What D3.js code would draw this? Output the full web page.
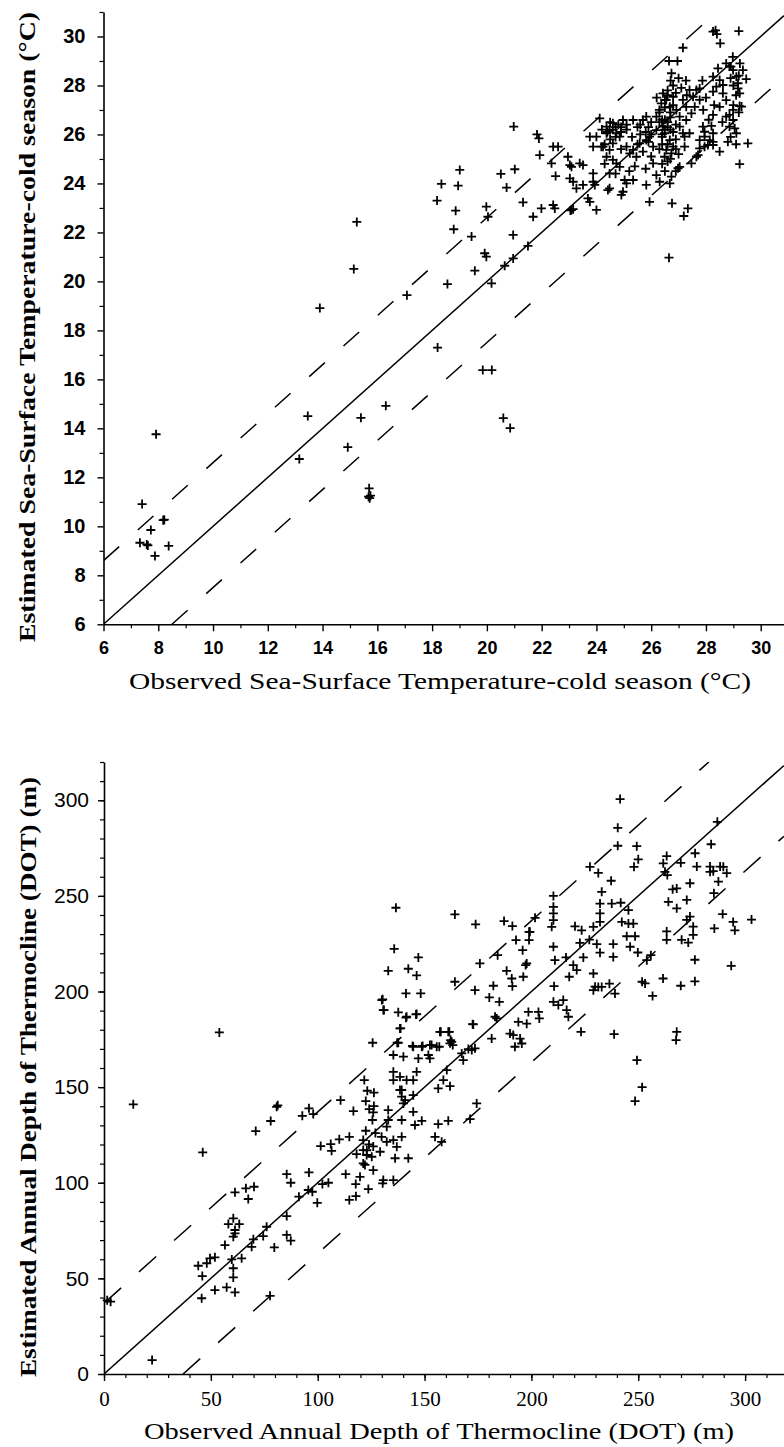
<!DOCTYPE html>
<html><head><meta charset="utf-8">
<script src="https://cdn.jsdelivr.net/npm/d3@7"></script>
<style>html,body{margin:0;padding:0;background:#fff;}svg{display:block;}</style>
</head><body>
<script>
// ---------- DATA ----------
// Top chart: cold-season SST (observed, estimated) in °C
const sstObs = [7.92,7.41,8.22,8.18,7.73,7.33,7.58,7.62,8.38,7.88,13.15,13.46,14.92,15.4,15.7,15.68,15.72,15.75,
15.25,15.14,13.9,17.08,16.31,18.2,19.85,20.18,20.6,20.85,
28.26,28.35,28.4,29.2,28.52,27.16,26.65,26.96,26.74,26.71,27.27,27.87,
28.98,29.24,28.91,29.35,29.47,29.17,29.23,28.38,28.26,28.62,28.74,29.23,29.3,28.5,28.99,28.86,28.26,27.89,28.2,27.95,29.11,29.05,28.8,28.26,27.95,28.26,27.71,29.53,29.23,27.04,26.98,26.74,26.68,25.94,26.76,27.34,27.19,26.65,
26.07,26.19,25.82,26.31,25.34,25.03,25.1,24.91,24.97,24.48,24.48,24.42,24.0,23.69,23.76,23.09,23.15,23.05,22.42,22.48,21.99,21.69,21.32,21.5,20.96,20.96,20.65,20.17,19.56,19.92,19.98,18.56,19.98,20.04,19.44,18.79,18.86,18.18,18.34,18.95,19.01,20.51,21.02,20.72,
20.98,21.83,21.9,22.42,22.6,21.93,22.36,22.51,22.96,23.03,23.09,23.39,23.51,23.03,23.15,23.51,23.27,23.88,23.88,23.94,
23.76,24.0,24.12,23.88,24.18,24.37,24.48,24.6,24.37,24.73,24.24,24.48,24.6,24.85,24.37,24.6,24.73,24.85,24.97,25.34,25.7,25.1,25.34,25.22,25.46,25.58,25.82,26.07,25.94,26.19,26.43,26.19,25.82,
26.43,26.55,26.68,26.8,26.37,26.92,27.04,27.16,27.28,27.4,27.65,27.53,27.77,
26.49,26.68,26.8,26.55,26.74,26.49,27.04,27.16,27.28,27.47,27.59,27.77,27.22,27.22,27.4,
28.74,28.86,28.99,29.11,29.17,28.26,28.5,28.62,28.44,28.86,28.99,28.74,28.26,28.14,27.95,27.77,27.47,27.65,27.77,28.07,
26.3,26.5,26.6,26.4,26.7,26.9,26.2,26.6,26.5,26.3,26.7,26.9,27.0,26.4,26.6,26.9,26.5,25.5,25.6,25.9,26.0,25.3,25.1,24.9,24.5,24.7,24.2,24.9,25.7,26.0,25.4,25.8,24.3,24.7,25.2,27.1,27.3,26.8,27.0,28.0,28.3,27.9,28.6,28.1,28.9,28.5,29.0,29.2,29.1,
26.3,26.4,26.5,26.6,26.7,26.8,26.5,26.3,26.6,26.9,26.4,26.8,26.6,26.9,26.7,26.4,
24.4,24.6,24.8,24.5,24.7,24.9,25.1,24.3,25.6,25.8,26.0,25.9,25.5,29.0,29.1,28.9,29.2];
const sstEst = [13.76,10.91,10.27,10.25,9.85,9.33,9.26,9.22,9.2,8.79,12.75,14.5,13.23,14.43,11.55,11.21,11.15,11.25,
22.43,20.51,18.91,19.44,14.92,17.3,16.38,16.38,14.42,14.01,
30.2,30.25,30.1,30.22,29.72,29.54,29.0,29.0,28.5,28.2,28.2,28.2,
29.17,28.9,28.77,28.63,28.26,27.88,27.68,27.95,27.75,27.68,27.4,27.16,27.14,27.13,27.0,26.8,26.8,26.32,26.35,26.11,26.05,26.25,25.7,25.7,25.5,25.57,25.16,25.64,24.79,24.68,24.62,24.28,24.0,23.25,23.19,22.98,22.67,20.97,
24.82,24.34,23.94,24.07,24.14,24.14,24.0,23.53,23.66,24.41,23.8,23.73,22.92,23.39,23.25,22.92,22.95,22.9,23.12,22.98,22.98,22.64,23.23,21.45,21.9,20.94,20.64,19.92,20.44,21.15,21.01,19.89,23.05,22.64,21.83,22.13,22.89,23.3,23.98,23.91,24.55,24.39,24.58,23.83,
26.32,26.0,25.84,25.5,25.5,25.16,24.82,24.3,25.09,24.75,24.68,24.82,24.75,24.21,24.07,23.94,23.8,24.41,24.07,23.94,
25.91,25.91,26.66,25.5,25.5,26.32,26.18,26.46,26.05,26.05,25.5,25.37,25.64,25.91,25.09,24.96,24.82,24.68,26.59,26.59,26.59,25.5,25.37,25.23,25.09,25.64,25.77,25.5,25.91,26.18,26.32,26.73,26.73,
27.68,27.41,27.13,27.54,27.27,27.0,26.73,27.41,27.13,27.82,27.82,27.54,27.88,
26.05,25.77,25.5,25.37,25.23,25.09,26.32,26.05,26.59,26.86,27.13,27.41,25.91,25.5,26.05,
28.9,28.77,28.63,28.36,28.09,28.36,28.22,28.02,28.7,26.32,26.59,26.73,26.05,25.77,25.91,25.77,24.82,25.09,25.43,25.57,
26.9,26.6,26.3,26.0,26.7,26.4,27.5,27.8,27.1,26.5,26.2,25.8,25.2,25.6,24.9,24.5,24.5,26.3,26.0,26.3,26.0,25.9,26.2,26.3,26.5,26.3,26.2,25.4,25.3,25.1,24.7,24.6,24.8,24.4,24.5,27.9,27.6,28.0,28.3,27.5,27.2,27.0,26.5,26.6,25.9,25.3,27.2,26.9,25.6,
25.4,25.9,26.2,26.5,26.9,27.2,27.4,27.0,27.6,27.7,26.6,26.1,25.6,25.4,25.0,24.8,
26.1,26.2,26.4,25.8,25.9,26.1,26.4,25.6,26.4,26.1,26.5,25.7,25.6,28.0,27.6,28.3,28.4];

// Bottom chart: annual depth of thermocline (observed, estimated) in m
const dotObs = [53.97,13.7,46.2,3.1,1.5,22.5,77.7,45.7,51.9,57.4,61.3,
44.1,46.0,48.1,49.6,51.9,60.5,60.5,59.8,64.4,
56.6,60.5,61.3,58.2,60.5,63.3,61.3,
69.1,69.9,74.5,76.1,79.7,85.5,85.5,87.4,
61.3,66.4,67.5,70.2,71.0,78.0,80.8,81.3,92.8,95.9,97.9,110.7,116.7,
85.5,87.4,91.2,95.6,97.5,99.8,95.9,102.2,105.0,113.1,114.8,117.8,117.9,
101.4,106.1,106.5,110.1,114.8,
121.8,123.2,126.3,122.5,126.3,126.0,125.6,124.1,122.5,121.3,118.2,121.3,122.9,125.3,121.3,126.0,122.1,123.7,119.8,129.2,129.9,
132.3,135.4,137.0,139.3,136.2,142.4,130.7,130.4,135.4,
133.0,133.0,132.3,139.3,144.7,145.5,148.7,
135.4,135.4,135.4,138.5,139.3,138.5,141.6,144.7,139.3,140.1,140.9,144.7,
140.1,144.7,147.1,148.7,152.5,155.7,152.5,146.3,151.8,
137.7,141.6,146.3,138.5,137.7,130.7,130.0,125.7,
157.2,161.1,162.7,161.9,172.8,
156.4,161.9,170.5,167.4,168.1,172.1,173.6,160.4,158.8,
156.4,161.1,171.3,154.9,158.0,174.4,
241.5,240.4,240.4,249.3,250.0,248.0,227.4,231.3,237.3,
210.3,210.3,210.3,210.3,209.5,
232.9,232.1,232.1,232.1,229.0,237.6,241.8,
245.4,242.3,245.4,247.7,220.4,223.5,
201.7,187.2,191.1,173.9,164.2,136.6,135.8,147.1,133.0,142.4,146.3,
130.4,131.0,141.3,146.0,141.3,148.2,
138.8,137.2,144.4,149.1,153.3,156.9,157.6,161.6,162.2,163.2,
164.2,173.6,172.5,175.9,184.2,
188.4,190.8,191.1,196.2,197.3,197.8,195.9,192.8,198.9,198.9,199.3,
182.2,180.3,185.0,183.0,183.8,181.4,190.0,191.5,194.7,195.5,192.3,193.9,197.8,198.6,203.3,203.7,216.5,217.3,
210.3,211.0,210.6,210.3,212.6,214.9,
227.1,222.7,224.3,219.6,217.7,221.2,229.0,231.3,232.9,229.0,236.5,239.1,216.2,
230.6,232.1,238.3,238.3,244.6,248.5,246.2,249.8,254.0,255.9,253.2,256.7,261.6,251.8,
263.3,261.7,269.9,262.5,263.6,266.1,268.0,264.1,268.0,272.7,274.2,277.4,276.6,284.1,283.6,288.3,287.5,291.4,285.4,
272.7,274.2,275.7,275.7,270.3,273.4,263.3,263.3,276.5,276.5,285.6,289.5,294.4,295.2,303.0,293.5,268.0,269.9,
287.0,289.8,285.1,283.6,223.2,229.8,
249.4,251.8,248.5,267.7,238.7,
124.0,127.0,123.0,126.0];
const dotEst = [178.6,141.0,115.9,37.8,38.5,7.3,40.9,39.6,43.9,45.3,42.7,
56.6,51.2,57.9,60.5,61.0,55.3,50.5,59.9,60.5,
67.4,71.8,73.5,78.4,81.4,78.4,75.3,
66.5,70.4,72.1,77.0,66.2,82.6,72.7,69.7,
95.0,97.1,91.5,97.9,127.0,132.3,139.7,140.5,135.0,138.9,135.9,143.2,137.5,
104.5,100.0,92.7,96.2,95.3,89.5,105.4,99.3,100.0,104.5,91.0,99.3,93.0,
119.2,120.2,116.7,122.7,124.0,
153.7,148.1,147.1,142.7,140.1,136.8,132.8,138.5,127.2,122.3,115.0,117.1,114.5,113.6,110.1,106.6,109.3,96.7,103.1,116.2,124.0,
121.4,122.3,118.8,124.0,112.8,112.8,101.4,99.7,101.4,
138.0,132.8,129.3,132.8,137.1,130.2,132.4,
166.8,158.0,153.7,155.4,148.5,148.5,153.7,153.7,145.0,141.5,143.2,145.8,
165.9,171.1,165.0,171.1,172.0,171.1,165.0,158.0,166.8,
189.1,186.8,188.2,180.7,173.2,190.3,195.5,173.2,
178.9,178.9,173.7,172.9,182.8,
149.3,150.5,169.9,167.6,164.1,169.4,170.3,158.9,153.7,
130.7,132.4,133.3,124.0,121.4,141.5,
300.6,285.6,276.2,276.0,269.1,265.2,265.2,262.0,257.9,
250.0,244.3,240.8,237.3,233.8,
252.1,246.0,240.8,236.4,233.8,246.0,246.4,
242.5,236.4,235.5,235.5,234.1,232.0,
238.5,236.8,234.2,235.1,240.3,243.8,222.3,217.8,210.8,211.9,208.4,
195.9,190.3,186.3,188.0,199.0,199.0,
180.7,173.2,171.5,171.5,172.0,171.1,178.9,178.9,174.6,172.0,
205.1,200.7,182.9,214.7,219.0,
210.8,206.8,202.8,207.7,213.8,214.7,221.6,226.9,226.9,231.2,231.2,
203.0,196.9,194.6,186.8,185.9,175.4,178.0,177.2,175.4,172.8,171.1,184.1,183.2,189.3,189.3,185.9,190.3,186.8,
223.4,216.4,202.8,194.6,192.9,195.5,
227.1,225.4,217.8,213.8,207.7,211.2,209.4,202.4,202.4,200.7,204.1,198.9,217.8,
224.8,220.3,224.8,218.1,228.9,228.9,223.4,220.4,216.4,219.0,204.2,197.7,206.8,205.1,
270.8,267.0,267.3,262.6,260.9,253.4,253.9,246.9,243.5,247.9,256.6,265.3,272.3,277.0,265.3,265.3,257.5,261.9,251.4,
237.4,239.2,233.9,229.6,227.0,225.6,231.4,227.0,216.6,205.3,233.0,240.5,236.4,232.0,237.6,213.4,178.9,203.0,
288.7,265.2,262.9,262.6,178.9,202.5,
164.1,150.0,142.7,174.6,177.7,
120.0,126.0,117.0,119.0];

// reference line offsets (1:1 line and ± band)
const sstBand = [0, 2.6, -2.5];
const dotBand = [0, 37, -37];

// tick values
const sstMajor = [6,8,10,12,14,16,18,20,22,24,26,28,30];
const sstMinor = [7,9,11,13,15,17,19,21,23,25,27,29,31];
const dotMajor = [0,50,100,150,200,250,300];
const dotMinor = d3.range(0, 321, 10);

// ---------- DRAW ----------
const W = 784, H = 1447;
const svg = d3.select("body").append("svg").attr("width", W).attr("height", H)
  .style("background", "#fff");

function panel(cfg) {
  const g = svg.append("g");
  const x = d3.scaleLinear().domain(cfg.xDom).range(cfg.xRange);
  const y = d3.scaleLinear().domain(cfg.yDom).range(cfg.yRange);
  const clipId = cfg.id + "clip";
  svg.append("clipPath").attr("id", clipId).append("rect")
    .attr("x", cfg.xRange[0]).attr("y", cfg.yRange[1])
    .attr("width", cfg.xRange[1] - cfg.xRange[0]).attr("height", cfg.yRange[0] - cfg.yRange[1]);

  // minor ticks
  g.append("g").attr("transform", `translate(0,${cfg.yRange[0]})`)
    .call(d3.axisBottom(x).tickValues(cfg.xMinor).tickSize(cfg.minorLen).tickFormat("").tickSizeOuter(0))
    .call(a => a.select(".domain").remove())
    .selectAll("line").attr("stroke", "#000").attr("stroke-width", 1.2);
  g.append("g").attr("transform", `translate(${cfg.xRange[0]},0)`)
    .call(d3.axisLeft(y).tickValues(cfg.yMinor).tickSize(cfg.minorLen).tickFormat("").tickSizeOuter(0))
    .call(a => a.select(".domain").remove())
    .selectAll("line").attr("stroke", "#000").attr("stroke-width", 1.2);

  // major axes
  const xa = g.append("g").attr("transform", `translate(0,${cfg.yRange[0]})`)
    .call(d3.axisBottom(x).tickValues(cfg.xMajor).tickSize(7).tickPadding(cfg.xPad).tickSizeOuter(0));
  xa.select(".domain").attr("stroke", "#000").attr("stroke-width", 1.6);
  xa.selectAll("line").attr("stroke", "#000").attr("stroke-width", 1.4);
  xa.selectAll("text").attr("fill", "#000").style("font-family", cfg.xFont)
    .style("font-size", cfg.xFs + "px").style("font-weight", cfg.xFw);

  const ya = g.append("g").attr("transform", `translate(${cfg.xRange[0]},0)`)
    .call(d3.axisLeft(y).tickValues(cfg.yMajor).tickSize(6).tickPadding(cfg.yPad).tickSizeOuter(0));
  ya.select(".domain").attr("stroke", "#000").attr("stroke-width", 1.6);
  ya.selectAll("line").attr("stroke", "#000").attr("stroke-width", 1.4);
  ya.selectAll("text").attr("fill", "#000").style("font-family", cfg.yFont)
    .style("font-size", cfg.yFs + "px").style("font-weight", cfg.yFw);

  // reference lines
  const lg = g.append("g").attr("clip-path", `url(#${clipId})`);
  const x0 = cfg.xDom[0], x1 = cfg.xDom[1];
  cfg.band.forEach(off => {
    let xs = Math.max(x0, cfg.yDom[0] - off), xe = Math.min(x1, cfg.yDom[1] - off);
    lg.append("line")
      .attr("x1", x(xs)).attr("y1", y(xs + off))
      .attr("x2", x(xe)).attr("y2", y(xe + off))
      .attr("stroke", "#000").attr("stroke-width", 1.5)
      .attr("stroke-dasharray", off === 0 ? null : cfg.dash);
  });

  // points
  const pg = g.append("g");
  cfg.xs.forEach((v, i) => {
    pg.append("path")
      .attr("transform", `translate(${x(v)},${y(cfg.ys[i])})`)
      .attr("d", "M-4.5,0H4.5M0,-4.5V4.5")
      .attr("stroke", "#000").attr("stroke-width", 1.8).attr("fill", "none");
  });

  // titles
  g.append("text").attr("x", cfg.xtX).attr("y", cfg.xtY).attr("text-anchor", "middle")
    .attr("textLength", cfg.xtLen).attr("lengthAdjust", "spacingAndGlyphs")
    .style("font-family", "'Liberation Serif', serif").style("font-size", cfg.xtFs + "px")
    .text(cfg.xTitle);
  g.append("text").attr("transform", `translate(${cfg.ytX},${cfg.ytY}) rotate(-90)`)
    .attr("text-anchor", "middle")
    .attr("textLength", cfg.ytLen).attr("lengthAdjust", "spacingAndGlyphs")
    .style("font-family", "'Liberation Serif', serif").style("font-size", cfg.ytFs + "px")
    .style("font-weight", "bold")
    .text(cfg.yTitle);
}

panel({
  id: "sst",
  xDom: [6, 30.85], xRange: [103.5, 784],
  yDom: [6, 31], yRange: [624.3, 12],
  xMajor: sstMajor, xMinor: sstMinor.filter(v => v <= 30.85), yMajor: sstMajor, yMinor: sstMinor,
  minorLen: 4, xPad: 10, yPad: 12,
  xFont: "'Liberation Sans', Arial, sans-serif", xFs: 18, xFw: "bold",
  yFont: "'Liberation Sans', Arial, sans-serif", yFs: 20, yFw: "bold",
  band: sstBand, dash: "21,25",
  xs: sstObs, ys: sstEst,
  xTitle: "Observed Sea-Surface Temperature-cold season (°C)",
  xtX: 440, xtY: 689, xtLen: 622, xtFs: 24,
  yTitle: "Estimated Sea-Surface Temperature-cold season (°C)",
  ytX: 35, ytY: 327, ytLen: 630, ytFs: 24
});

panel({
  id: "dot",
  xDom: [0, 318.2], xRange: [104, 784],
  yDom: [0, 320], yRange: [1374, 762],
  xMajor: dotMajor, xMinor: dotMinor.filter(v => v <= 318.2), yMajor: dotMajor, yMinor: dotMinor,
  minorLen: 4, xPad: 10, yPad: 9,
  xFont: "'Liberation Serif', serif", xFs: 21, xFw: "normal",
  yFont: "'Liberation Sans', Arial, sans-serif", yFs: 21, yFw: "normal",
  band: dotBand, dash: "23,24",
  xs: dotObs, ys: dotEst,
  xTitle: "Observed Annual Depth of Thermocline (DOT) (m)",
  xtX: 439, xtY: 1439, xtLen: 590, xtFs: 23,
  yTitle: "Estimated Annual Depth of Thermocline (DOT) (m)",
  ytX: 36, ytY: 1077, ytLen: 600, ytFs: 23
});
</script>
</body></html>
